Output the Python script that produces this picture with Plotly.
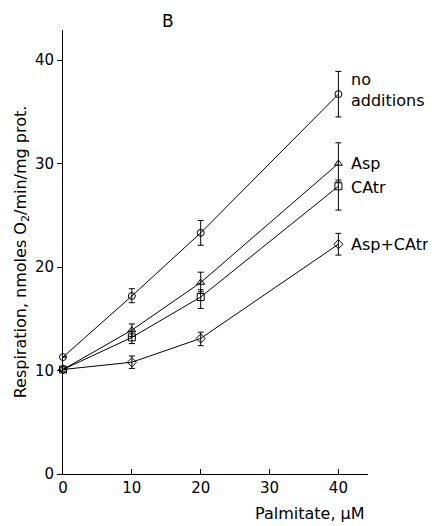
import plotly.graph_objects as go

palmitate = [0, 10, 20, 40]

no_add = [11.3, 17.2, 23.3, 36.7]
no_add_hi = [0.0, 0.7, 1.2, 2.2]
no_add_lo = [0.0, 0.65, 1.2, 2.2]

asp = [10.1, 13.9, 18.5, 30.0]
asp_hi = [0.0, 0.6, 1.0, 2.0]
asp_lo = [0.0, 0.6, 0.9, 1.8]

catr = [10.1, 13.2, 17.1, 27.8]
catr_hi = [0.0, 0.6, 0.7, 0.6]
catr_lo = [0.0, 0.6, 1.1, 2.3]

aspcatr = [10.1, 10.8, 13.1, 22.2]
aspcatr_hi = [0.0, 0.6, 0.6, 1.05]
aspcatr_lo = [0.0, 0.6, 0.7, 1.05]

series = [
    ("no<br>additions", no_add, no_add_hi, no_add_lo, "circle-open", 37.1),
    ("Asp", asp, asp_hi, asp_lo, "triangle-up-open", 30.0),
    ("CAtr", catr, catr_hi, catr_lo, "square-open", 27.7),
    ("Asp+CAtr", aspcatr, aspcatr_hi, aspcatr_lo, "diamond-open", 22.2),
]

FONT = "DejaVu Sans"
fig = go.Figure()
for name, ys, hi, lo, sym, ly in series:
    fig.add_trace(go.Scatter(
        x=palmitate, y=ys, mode="lines+markers", name=name.replace("<br>", " "),
        line=dict(color="black", width=1),
        marker=dict(symbol=sym, size=7, color="black", line=dict(width=1)),
        error_y=dict(type="data", array=hi, arrayminus=lo, symmetric=False,
                     color="black", thickness=1, width=3),
        cliponaxis=False, showlegend=False,
    ))
    fig.add_annotation(x=41.6, y=ly, xref="x", yref="y", text=name, showarrow=False,
                       xanchor="left", yanchor="middle", align="left",
                       font=dict(family=FONT, size=16, color="black"))

fig.add_annotation(x=0.344, y=1.021, xref="paper", yref="paper", text="B", showarrow=False,
                   xanchor="center", yanchor="middle", font=dict(family=FONT, size=17, color="black"))
fig.add_annotation(x=0.81, y=-0.063, xref="paper", yref="paper", text="Palmitate, μM", showarrow=False,
                   xanchor="center", yanchor="top", font=dict(family=FONT, size=16, color="black"))

fig.update_layout(
    width=428, height=518,
    margin=dict(l=55, r=68, t=22, b=52),
    paper_bgcolor="white", plot_bgcolor="white",
    font=dict(family=FONT, size=15, color="black"),
    xaxis=dict(range=[0, 44.3], tickvals=[0, 10, 20, 30, 40], ticks="inside", ticklen=5,
               tickcolor="black", showline=True, linecolor="black", linewidth=1,
               showgrid=False, zeroline=False, tickfont=dict(size=15), automargin=False),
    yaxis=dict(range=[0, 42.9], tickvals=[0, 10, 20, 30, 40], ticks="outside", ticklen=5,
               tickcolor="black", showline=True, linecolor="black", linewidth=1,
               showgrid=False, zeroline=False, tickfont=dict(size=15), automargin=False,
               title=dict(text="Respiration, nmoles O<sub>2</sub>/min/mg prot.",
                          font=dict(size=16), standoff=4)),
)

fig.write_html("out.html")
